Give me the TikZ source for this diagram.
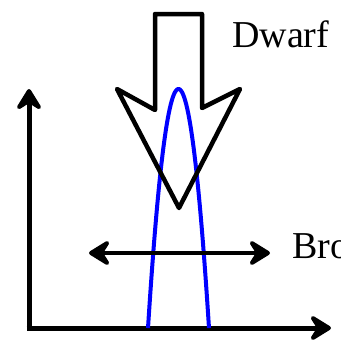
\documentclass[tikz,border=0pt]{standalone}
\usepackage{fontspec}
\setmainfont{Liberation Serif}
\usetikzlibrary{arrows.meta}
\begin{document}
\begin{tikzpicture}[x=1pt,y=-1pt,
  tip/.tip={Stealth[length=26pt,width=32pt,inset=10pt,round]},
  axis/.style={line width=5pt,-tip},
  lbl/.style={anchor=base west,inner sep=0pt,font=\fontsize{38}{40}\selectfont}]
\useasboundingbox (0,0) rectangle (341,341);
\clip (0,0) rectangle (341,341);
% axes
\coordinate (o) at (29,328);
\coordinate (ytip) at (29,89);
\coordinate (xtip) at (331,328);
\draw[axis] ([yshift=-2.5pt]o) -- (ytip);
\draw[axis] ([xshift=-2.5pt]o) -- (xtip);
% blue curve
\draw[blue,line width=4pt] plot[domain=-30.5:30.5,samples=60] ({178.5+\x},{89+0.257*\x*\x});
% big arrow
\draw[line width=4.5pt,line join=round] (155,14) -- (202,14) -- (202,108) -- (240,89) -- (179,208) -- (117,89) -- (155,110) -- cycle;
% broad arrow
\coordinate (bl) at (89,253);
\coordinate (br) at (270,253);
\draw[line width=4.5pt,tip-tip] (bl) -- (br);
% labels
\node[lbl] (dwarf) at (232,47) {Dwarf};
\node[lbl] (bro) at (292,258) {Bro};
\end{tikzpicture}
\end{document}
